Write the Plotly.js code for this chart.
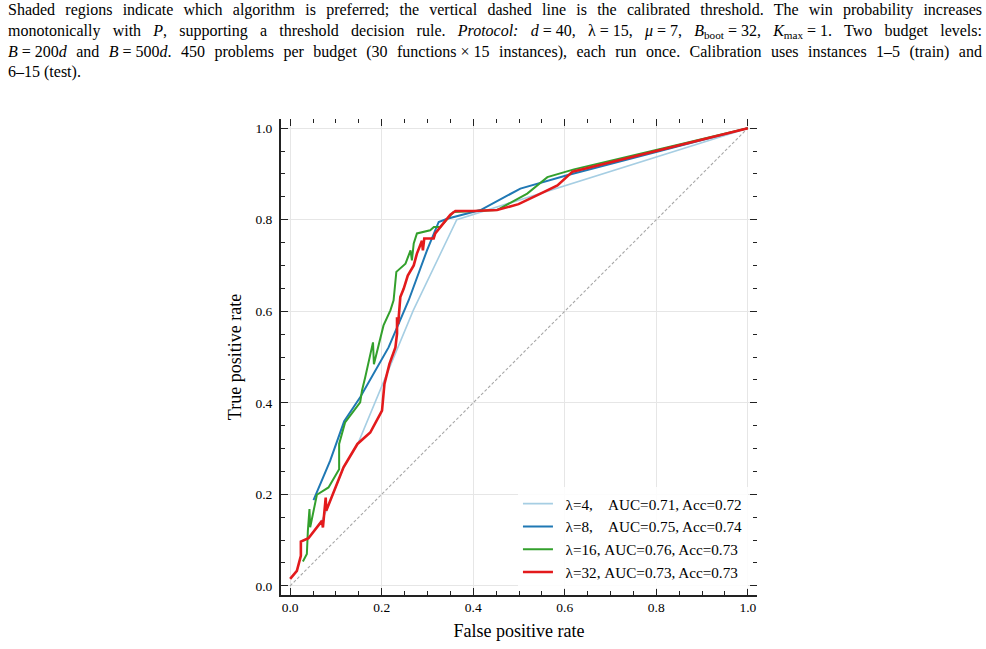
<!DOCTYPE html>
<html>
<head>
<meta charset="utf-8">
<script src="https://cdn.plot.ly/plotly-3.0.1.min.js"></script>
<style>
  html, body { margin: 0; padding: 0; background: #ffffff; }
  #roc { width: 986px; height: 649px; }
</style>
</head>
<body>
<div id="roc"></div>
<script>
// ROC curves of the win-probability classifier for four lambda settings
const lambdas = [4, 8, 16, 32];
const aucs = ["0.71", "0.75", "0.76", "0.73"];
const accs = ["0.72", "0.74", "0.73", "0.73"];

const fpr4 = [0.023, 0.040, 0.069, 0.079, 0.117, 0.149, 0.269, 0.364, 1.0];
const tpr4 = [0.097, 0.104, 0.142, 0.164, 0.259, 0.313, 0.602, 0.800, 1.0];

const fpr8 = [0.051, 0.0875, 0.118, 0.153, 0.215, 0.259, 0.299, 0.317, 0.3245, 0.343, 0.416, 0.503, 0.605, 1.0];
const tpr8 = [0.1875, 0.2735, 0.3595, 0.412, 0.521, 0.624, 0.733, 0.777, 0.795, 0.802, 0.821, 0.868, 0.897, 1.0];

const fpr16 = [0.0278, 0.0365, 0.0387, 0.0422, 0.0438, 0.0584, 0.0838, 0.107, 0.107, 0.120, 0.153, 0.157, 0.164, 0.181, 0.183, 0.204, 0.219, 0.226, 0.232, 0.252, 0.263, 0.266, 0.270, 0.277, 0.306, 0.314, 0.328, 0.357, 0.452, 0.518, 0.562, 0.620, 1.0];
const tpr16 = [0.0532, 0.0694, 0.120, 0.168, 0.128, 0.199, 0.215, 0.255, 0.310, 0.357, 0.401, 0.427, 0.456, 0.532, 0.484, 0.569, 0.602, 0.624, 0.686, 0.704, 0.733, 0.711, 0.748, 0.770, 0.777, 0.784, 0.784, 0.817, 0.821, 0.857, 0.893, 0.910, 1.0];

const fpr32 = [0.000, 0.0147, 0.0234, 0.0234, 0.040, 0.0694, 0.0716, 0.0777, 0.0788, 0.1166, 0.147, 0.175, 0.2007, 0.206, 0.217, 0.230, 0.2335, 0.2335, 0.236, 0.238, 0.2407, 0.248, 0.257, 0.270, 0.277, 0.288, 0.290, 0.293, 0.3136, 0.317, 0.328, 0.3355, 0.350, 0.361, 0.401, 0.452, 0.499, 0.547, 0.584, 0.617, 1.0];
const tpr32 = [0.0153, 0.0328, 0.0656, 0.0969, 0.104, 0.142, 0.1276, 0.193, 0.164, 0.259, 0.310, 0.335, 0.383, 0.441, 0.485, 0.521, 0.551, 0.587, 0.572, 0.600, 0.631, 0.649, 0.678, 0.700, 0.726, 0.754, 0.733, 0.759, 0.759, 0.770, 0.784, 0.795, 0.811, 0.819, 0.819, 0.821, 0.834, 0.857, 0.875, 0.905, 1.0];

const chanceX = [0, 1];
const chanceY = [0, 1];

const fprs = [fpr4, fpr8, fpr16, fpr32];
const tprs = [tpr4, tpr8, tpr16, tpr32];
const colors = ["#a6cee3", "#1f78b4", "#33a02c", "#e31a1c"];
const widths = [1.6, 2, 2, 2.6];

const serif = "Liberation Serif, Times New Roman, serif";
const nb = "\u00a0";
const eq = "\u2005=\u2005";   // math-style spacing around equals signs

function legendLabel(i) {
  const head = nb + nb + "λ=" + lambdas[i] + ",";
  const pad = lambdas[i] < 10 ? nb + nb + nb + " " : " ";
  return head + pad + "AUC=" + aucs[i] + ", Acc=" + accs[i];
}

const traces = [{
  x: chanceX, y: chanceY, mode: "lines", showlegend: false, hoverinfo: "skip",
  line: { color: "#a8a8a8", width: 1.1, dash: "3px,2px" }
}];
for (let i = 0; i < lambdas.length; i++) {
  traces.push({
    x: fprs[i], y: tprs[i], mode: "lines", name: legendLabel(i),
    line: { color: colors[i], width: widths[i] }
  });
}
// companion subplot carrying the tick-only top and right axes
traces.push({ x: [], y: [], xaxis: "x2", yaxis: "y2", mode: "lines", showlegend: false, hoverinfo: "skip" });

const rng = [-0.02, 1.02];
const tickFont = { family: serif, size: 13.5, color: "#000000" };
const minorTicks = { dtick: 0.05, ticks: "inside", ticklen: 4, tickwidth: 1, tickcolor: "#222222", showgrid: false };

const caption =
  "Shaded regions indicate which algorithm is preferred; the vertical dashed line is the calibrated threshold. The win probability increases<br>" +
  "monotonically with <i>P</i>, supporting a threshold decision rule. <i>Protocol: d</i>" + eq + "40, λ" + eq + "15, <i>μ</i>" + eq + "7, <i>B</i><sub>boot</sub>" + eq + "32, <i>K</i><sub>max</sub>" + eq + "1. Two budget levels:<br>" +
  "<i>B</i>" + eq + "200<i>d</i> and <i>B</i>" + eq + "500<i>d</i>. 450 problems per budget (30 functions\u2005×\u200515 instances), each run once. Calibration uses instances 1–5 (train) and<br>" +
  "6–15 (test).";

const layout = {
  width: 986, height: 649,
  margin: { l: 281, r: 229, t: 119, b: 54, pad: 0 },
  paper_bgcolor: "#ffffff", plot_bgcolor: "#ffffff",
  font: { family: serif, color: "#000000" },
  showlegend: true,
  legend: {
    x: 0.981, y: 0.012, xanchor: "right", yanchor: "bottom",
    bgcolor: "rgba(255,255,255,0.85)", borderwidth: 0,
    font: { family: serif, size: 15.2, color: "#000000" },
    tracegroupgap: 0
  },
  xaxis: {
    range: rng, dtick: 0.2, tick0: 0, tickformat: ".1f",
    showgrid: true, gridcolor: "#e6e6e6", gridwidth: 1, zeroline: false,
    showline: true, linecolor: "#222222", linewidth: 2, mirror: false,
    ticks: "inside", ticklen: 7, tickwidth: 1.2, tickcolor: "#222222",
    minor: minorTicks,
    tickfont: tickFont, ticklabelstandoff: -1,
    title: { text: "False positive rate", font: { family: serif, size: 18, color: "#000000" }, standoff: 10 }
  },
  yaxis: {
    range: rng, dtick: 0.2, tick0: 0, tickformat: ".1f",
    showgrid: true, gridcolor: "#e6e6e6", gridwidth: 1, zeroline: false,
    showline: true, linecolor: "#222222", linewidth: 2, mirror: false,
    ticks: "inside", ticklen: 7, tickwidth: 1.2, tickcolor: "#222222",
    minor: minorTicks,
    tickfont: tickFont, ticklabelstandoff: 4,
    title: { text: "True positive rate", font: { family: serif, size: 18, color: "#000000" }, standoff: 9 }
  },
  xaxis2: {
    overlaying: "x", side: "top", anchor: "y", range: rng, dtick: 0.2, tick0: 0,
    showgrid: false, zeroline: false, showline: false, showticklabels: false,
    ticks: "inside", ticklen: 7, tickwidth: 1.2, tickcolor: "#222222",
    minor: minorTicks
  },
  yaxis2: {
    overlaying: "y", side: "right", anchor: "x", range: rng, dtick: 0.2, tick0: 0,
    showgrid: false, zeroline: false, showline: false, showticklabels: false,
    ticks: "inside", ticklen: 7, tickwidth: 1.2, tickcolor: "#222222",
    minor: minorTicks
  },
  annotations: [{
    xref: "paper", yref: "paper", x: -0.5777, y: 1.252,
    xanchor: "left", yanchor: "top", align: "left", showarrow: false,
    text: caption,
    font: { family: serif, size: 16, color: "#000000" }
  }]
};

// full-justify the caption lines (all but the last) to the page width
function justifyCaption(gd) {
  const target = 974;
  const lines = gd.querySelectorAll(".annotation-text tspan.line");
  lines.forEach(function (ln, i) {
    if (i >= lines.length - 1) return;
    const w = ln.getComputedTextLength();
    const spaces = (ln.textContent.match(/ /g) || []).length;
    if (spaces > 0 && w < target) {
      ln.style.wordSpacing = ((target - w) / spaces).toFixed(2) + "px";
    }
  });
}

Plotly.newPlot("roc", traces, layout, { staticPlot: true, displayModeBar: false })
  .then(justifyCaption);
</script>
</body>
</html>
